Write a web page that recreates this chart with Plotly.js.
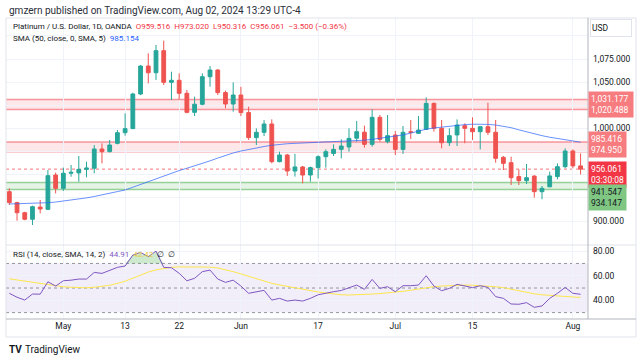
<!DOCTYPE html>
<html><head><meta charset="utf-8">
<script src="https://cdn.plot.ly/plotly-3.0.1.min.js"></script>
<style>html,body{margin:0;padding:0;background:#fff;overflow:hidden}#chart{width:643px;height:361px}</style>
</head><body><div id="chart"></div>
<script>
// ---------- data ----------
const dates = [
 '2024-04-22','2024-04-23','2024-04-24','2024-04-25','2024-04-26','2024-04-29','2024-04-30',
 '2024-05-01','2024-05-02','2024-05-03','2024-05-06','2024-05-07','2024-05-08','2024-05-09','2024-05-10',
 '2024-05-13','2024-05-14','2024-05-15','2024-05-16','2024-05-17','2024-05-20','2024-05-21','2024-05-22',
 '2024-05-23','2024-05-24','2024-05-27','2024-05-28','2024-05-29','2024-05-30','2024-05-31',
 '2024-06-03','2024-06-04','2024-06-05','2024-06-06','2024-06-07','2024-06-10','2024-06-11','2024-06-12',
 '2024-06-13','2024-06-14','2024-06-17','2024-06-18','2024-06-19','2024-06-20','2024-06-21','2024-06-24',
 '2024-06-25','2024-06-26','2024-06-27','2024-06-28',
 '2024-07-01','2024-07-02','2024-07-03','2024-07-04','2024-07-05','2024-07-08','2024-07-09','2024-07-10',
 '2024-07-11','2024-07-12','2024-07-15','2024-07-16','2024-07-17','2024-07-18','2024-07-19','2024-07-22',
 '2024-07-23','2024-07-24','2024-07-25','2024-07-26','2024-07-29','2024-07-30','2024-07-31',
 '2024-08-01','2024-08-02'];
const opens = [931.7,919.9,909.0,901.9,915.1,912.6,949.7,935.3,951.6,952.0,955.8,957.0,977.8,975.0,983.9,
 995.4,999.8,1037.2,1067.4,1060.2,1084.0,1049.8,1052.0,1038.0,1017.4,1026.1,1055.9,1063.1,1038.7,1026.4,
 1036.1,1017.1,990.1,995.8,1004.8,964.1,971.3,954.0,958.4,949.7,957.7,969.5,973.0,977.4,980.0,989.5,
 996.0,982.8,1012.0,985.7,992.9,977.4,996.5,994.7,999.0,1027.1,1000.1,984.6,993.0,1003.0,1000.1,996.5,
 1001.9,995.8,968.8,963.0,948.0,943.6,948.5,931.7,937.0,948.0,958.7,975.6,959.516];
const highs = [935.3,920.9,910.0,916.6,922.7,955.1,952.3,957.7,960.5,970.2,964.1,982.1,983.9,987.5,998.3,
 1016.3,1038.6,1068.5,1081.1,1090.1,1094.8,1061.3,1059.5,1041.5,1034.3,1059.5,1067.4,1064.0,1040.8,1049.8,
 1045.0,1023.5,1000.1,1009.1,1009.8,974.9,972.5,972.5,959.5,958.8,971.0,977.4,982.8,988.2,1000.1,1008.0,
 1003.0,1020.6,1014.5,1014.5,997.2,1002.6,1009.1,1013.4,1033.6,1028.0,1009.1,1000.1,1009.8,1005.5,1012.0,1002.6,
 1027.8,1009.1,970.2,969.5,955.8,961.6,949.6,937.9,953.3,962.3,978.5,977.4,973.020];
const lows = [917.3,900.4,900.8,895.7,908.3,911.9,929.9,932.5,947.9,942.5,947.2,951.6,962.3,974.0,982.8,
 992.2,999.5,1036.0,1048.7,1052.3,1046.9,1030.7,1030.7,1016.3,1013.4,1025.0,1045.1,1036.1,1021.7,1018.1,
 1013.4,987.5,982.1,991.8,962.3,963.4,948.7,948.0,940.7,942.5,946.0,957.7,970.2,967.7,974.9,985.7,
 979.3,980.3,985.7,983.9,971.3,972.5,988.6,993.9,998.3,996.5,978.5,981.0,981.0,984.0,987.5,977.4,
 992.9,963.0,955.1,938.9,938.9,940.0,925.3,923.5,936.4,945.1,957.0,957.0,950.316];
const closes = [919.9,909.0,901.9,915.5,913.0,949.0,935.3,951.6,952.6,955.8,957.3,977.8,974.9,982.1,995.4,
 999.8,1037.2,1067.4,1060.2,1084.0,1049.8,1052.0,1038.0,1017.4,1026.1,1055.9,1063.1,1038.7,1026.4,1036.1,
 1017.1,990.1,995.8,1004.8,964.1,971.3,954.0,958.4,949.7,957.7,969.5,974.9,977.4,981.0,989.3,996.5,
 982.8,1012.0,988.2,992.2,977.4,995.8,995.8,998.3,1027.1,1000.1,984.6,992.2,1003.7,1000.1,996.5,1001.9,
 995.8,967.7,962.3,946.8,943.6,946.8,931.7,935.3,948.7,958.7,975.6,959.561,956.061];
const sma50 = [918.4,918.6,918.8,919.1,919.4,919.8,920.5,921.5,922.5,923.7,925.0,926.5,928.0,930.0,931.8,
 933.5,936.5,939.5,942.5,945.8,949.0,951.8,954.5,957.0,959.5,962.0,965.0,968.0,971.0,973.5,
 975.6,977.4,979.0,980.5,981.8,982.9,983.5,983.9,984.2,984.6,985.0,985.3,985.6,985.9,986.2,986.6,
 987.3,988.2,989.3,991.0,992.0,993.0,995.0,997.5,999.2,1000.5,1001.5,1002.5,1003.4,1004.1,1004.6,1004.7,
 1004.4,1003.7,1002.5,1000.8,998.5,996.3,994.0,992.2,990.5,989.0,987.6,986.3,985.154];
const rsi = [45.7,42.5,40.2,45.1,45.0,55.1,51.6,55.9,56.4,57.3,57.3,62.7,61.9,64.1,66.8,
 67.9,76.8,79.0,75.5,80.0,66.8,66.5,62.0,55.9,57.9,63.3,64.6,57.3,54.6,56.4,
 51.6,45.7,46.7,48.1,40.2,41.6,39.4,40.2,39.4,41.6,44.5,46.0,47.0,48.0,50.5,52.4,
 48.9,57.0,49.7,51.1,47.0,51.9,51.9,52.4,60.0,51.6,47.8,49.7,53.0,51.6,50.3,51.9,
 50.5,43.0,41.6,37.0,36.8,38.1,34.3,35.4,41.6,45.7,50.5,45.7,44.91];
const rsiMa = [57.5,56.5,55.5,54.5,53.8,52.8,51.8,51.0,50.6,50.3,50.2,50.6,51.2,52.2,53.8,
 55.5,58.0,60.8,63.0,64.8,66.0,66.8,67.2,67.3,67.3,67.3,67.0,66.3,65.0,63.3,
 61.5,59.5,57.5,55.5,53.8,52.5,51.3,50.2,49.5,48.0,46.8,46.0,45.0,44.5,44.3,44.4,
 44.8,45.1,45.5,46.0,46.6,47.3,48.2,49.2,50.3,51.1,51.6,52.0,52.3,52.4,52.3,52.0,
 51.6,51.0,50.3,49.0,47.8,46.6,45.3,44.5,43.9,43.5,43.1,42.7,42.42];
const tickDates = ['2024-05-01','2024-05-13','2024-05-22','2024-06-03','2024-06-17','2024-07-01','2024-07-15','2024-08-01'];
const tickLabels = ['May','13','22','Jun','17','Jul','15','Aug'];
const priceTicks = [875,900,925,950,975,1000,1025,1050,1075,1100];
const priceTickLabels = ['','900.000','','','','1,000.000','','1,050.000','1,075.000',''];
const rsiTicks = [40,60,80];
const rsiTickLabels = ['40.00','60.00','80.00'];
const upperZone = [1020.488, 1031.177];
const middleZone = [974.950, 985.416];
const supportZone = [934.147, 941.547];
const lastPrice = 956.061;
const countdown = '03:30:08';
const rsiLevels = [30, 50, 70];

// ---------- layout helpers ----------
const L = 6, R = 588, T = 18, B = 319, SEP = 245;
const px = x => (x - L) / (R - L);
const py = y => (B - y) / (B - T);
const mainDomain = [(B - SEP) / (B - T), 1];
const FONT = 'Roboto, "Open Sans", sans-serif';
const GREEN = '#26a69a', RED = '#ef5350';

const candle = {
  type: 'candlestick', x: dates, open: opens, high: highs, low: lows, close: closes,
  xaxis: 'x', yaxis: 'y',
  increasing: {line: {color: GREEN, width: 1}, fillcolor: GREEN},
  decreasing: {line: {color: RED, width: 1}, fillcolor: RED},
  whiskerwidth: 0, hoverinfo: 'skip', showlegend: false
};
const smaTrace = {type: 'scatter', mode: 'lines', x: dates, y: sma50, xaxis: 'x', yaxis: 'y',
  line: {color: 'rgba(41,98,255,0.7)', width: 1}, hoverinfo: 'skip', showlegend: false};
const obBase = {type: 'scatter', mode: 'lines', x: dates, y: dates.map(() => rsiLevels[2]), xaxis: 'x', yaxis: 'y2',
  line: {width: 0, color: 'rgba(0,0,0,0)'}, hoverinfo: 'skip', showlegend: false};
const obFill = {type: 'scatter', mode: 'lines', x: dates, y: rsi.map(v => Math.max(v, rsiLevels[2])), xaxis: 'x', yaxis: 'y2',
  line: {width: 0, color: 'rgba(0,0,0,0)'}, fill: 'tonexty', fillcolor: 'rgba(76,175,80,0.28)', hoverinfo: 'skip', showlegend: false};
const rsiMaTrace = {type: 'scatter', mode: 'lines', x: dates, y: rsiMa, xaxis: 'x', yaxis: 'y2',
  line: {color: '#fde74c', width: 1}, hoverinfo: 'skip', showlegend: false};
const rsiTrace = {type: 'scatter', mode: 'lines', x: dates, y: rsi, xaxis: 'x', yaxis: 'y2',
  line: {color: '#7e57c2', width: 1}, hoverinfo: 'skip', showlegend: false};

const shapes = [];
function hline(y, yref, color, width, dash) {
  shapes.push({type: 'line', xref: 'paper', yref: yref, x0: 0, x1: 1, y0: y, y1: y, line: {color, width, dash: dash || 'solid'}, layer: 'below'});
}
function zone(z, fill, edge) {
  shapes.push({type: 'rect', xref: 'paper', yref: 'y', x0: 0, x1: 1, y0: z[0], y1: z[1], fillcolor: fill, line: {width: 0}, layer: 'below'});
  hline(z[0], 'y', edge, 1.5);
  hline(z[1], 'y', edge, 1.5);
}
zone(upperZone, 'rgba(242,54,69,0.12)', 'rgba(242,54,69,0.5)');
zone(middleZone, 'rgba(242,54,69,0.12)', 'rgba(242,54,69,0.5)');
zone(supportZone, 'rgba(76,175,80,0.14)', 'rgba(76,175,80,0.55)');
hline(lastPrice, 'y', 'rgba(242,54,69,0.7)', 1, 'dot');
shapes.push({type: 'rect', xref: 'paper', yref: 'y2', x0: 0, x1: 1, y0: rsiLevels[0], y1: rsiLevels[2], fillcolor: 'rgba(126,87,194,0.1)', line: {width: 0}, layer: 'below'});
rsiLevels.forEach(v => hline(v, 'y2', 'rgba(120,123,134,0.8)', 1, '3px,3px'));
// frame lines
const frame = (x0, y0, x1, y1, color) => shapes.push({type: 'line', xref: 'paper', yref: 'paper', x0: px(x0), x1: px(x1), y0: py(y0), y1: py(y1), line: {color, width: 1}});
frame(6, 18, 636, 18, '#e0e3eb');
frame(6, 337, 636, 337, '#e0e3eb');
frame(6, 18, 6, 337, '#e0e3eb');
frame(636, 18, 636, 337, '#e0e3eb');
frame(6, SEP, 636, SEP, '#e0e3eb');
frame(R, 18, R, B, '#b2b5be');
frame(6, B, 636, B, '#b2b5be');

const ann = [];
function text(x, y, t, color, size, extra) {
  ann.push(Object.assign({xref: 'paper', yref: 'paper', x: px(x), y: py(y), text: t, showarrow: false,
    xanchor: 'left', yanchor: 'middle', font: {family: FONT, size: size, color: color}}, extra || {}));
}
const span = (c, t) => '<span style="color:' + c + '">' + t + '</span>';
text(7, 10, 'gmzern published on TradingView.com, Aug 02, 2024 13:29 UTC-4', '#2a2e39', 10);
text(11, 27, 'Platinum / U.S. Dollar, 1D, OANDA  ' +
  span('#f23645', 'O959.516  H973.020  L950.316  C956.061  \u22123.500 (\u22120.36%)'), '#131722', 8);
text(11, 38, 'SMA (50, close, 0, SMA, 5)  ' + span('#2962ff', '985.154'), '#131722', 8);
text(11, 255, 'RSI (14, close, SMA, 14, 2)  ' + span('#7e57c2', '44.91') + '  ' + span('#e8c93a', '42.42') +
  '  \u2205  \u2205', '#131722', 8);
text(590, 28.5, 'USD', '#131722', 8.5, {bordercolor: '#e0e3eb', borderwidth: 1, bgcolor: '#ffffff', width: 38, height: 14, align: 'left', borderpad: 1});
text(7, 350, '<b>TV</b>', '#131722', 10);
text(23, 350, 'TradingView', '#131722', 10);

function priceBox(yv, t, bg, fg, w, yanchor, yshift) {
  ann.push({xref: 'paper', yref: 'y', x: 1, y: yv, text: t, showarrow: false, xanchor: 'left', yanchor: yanchor,
    yshift: yshift, bgcolor: bg, borderpad: 2, width: w, align: 'left',
    font: {family: FONT, size: 8.5, color: fg}});
}
const fmt = v => v.toLocaleString('en-US', {minimumFractionDigits: 3, maximumFractionDigits: 3});
priceBox((upperZone[0] + upperZone[1]) / 2, fmt(upperZone[1]) + '<br>' + fmt(upperZone[0]), '#f77c80', '#ffffff', 40, 'middle', 0);
priceBox((middleZone[0] + middleZone[1]) / 2, fmt(middleZone[1]) + '<br>' + fmt(middleZone[0]), '#f77c80', '#ffffff', 33, 'middle', 2);
priceBox(lastPrice, fmt(lastPrice) + '<br>' + countdown, '#f23645', '#ffffff', 33, 'top', 8);
priceBox(supportZone[1], fmt(supportZone[1]) + '<br>' + fmt(supportZone[0]), '#81c784', '#131722', 33, 'top', -1);

const layout = {
  width: 643, height: 361, paper_bgcolor: '#ffffff', plot_bgcolor: '#ffffff',
  margin: {l: L, r: 643 - R, t: T, b: 361 - B, pad: 0},
  showlegend: false, font: {family: FONT, color: '#131722'},
  xaxis: {type: 'category', range: [-0.43, 74.96], tickvals: tickDates, ticktext: tickLabels,
    showgrid: true, gridcolor: '#f0f3fa', gridwidth: 1, ticks: '', showline: false, zeroline: false,
    tickfont: {family: FONT, size: 8.5, color: '#131722'}, anchor: 'y2', rangeslider: {visible: false}, fixedrange: true},
  yaxis: {domain: mainDomain, side: 'right', range: [874.1, 1119.3], tickvals: priceTicks, ticktext: priceTickLabels,
    showgrid: true, gridcolor: '#f0f3fa', ticks: '', showline: false, zeroline: false, ticklabelstandoff: 4,
    tickfont: {family: FONT, size: 8.5, color: '#131722'}, anchor: 'x', fixedrange: true},
  yaxis2: {domain: [0, mainDomain[0]], side: 'right', range: [24.8, 85], tickvals: rsiTicks, ticktext: rsiTickLabels,
    showgrid: true, gridcolor: '#f0f3fa', ticks: '', showline: false, zeroline: false, ticklabelstandoff: 4,
    tickfont: {family: FONT, size: 8.5, color: '#131722'}, anchor: 'x', fixedrange: true},
  shapes: shapes, annotations: ann
};
Plotly.newPlot('chart', [candle, smaTrace, obBase, obFill, rsiMaTrace, rsiTrace], layout, {displayModeBar: false, staticPlot: true});
</script></body></html>
